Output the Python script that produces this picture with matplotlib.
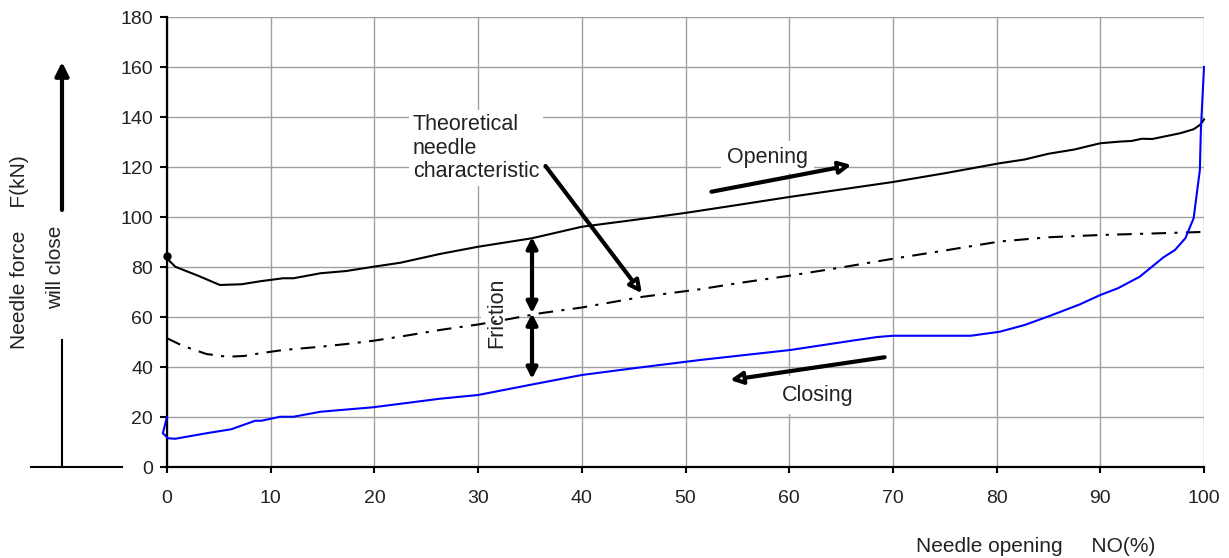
import matplotlib
matplotlib.use("Agg")
import matplotlib.pyplot as plt

plt.rcParams["font.family"] = ["Liberation Sans", "DejaVu Sans"]

# needle opening (%) vs needle force (kN)
open_x = [0, 0.1, 0.8, 3, 5.1, 7.2, 9, 11.2, 12.2, 14.8, 17.3, 19.9, 22.5, 26.3,
          30, 35.2, 40, 45, 50.1, 55, 60, 65, 70, 75, 80.3, 82.7, 85, 87.5, 90,
          92, 93, 94, 95, 97.7, 99, 99.6, 100]
open_y = [84.4, 83, 80.1, 76.5, 72.8, 73.1, 74.3, 75.5, 75.5, 77.5, 78.4, 80.1,
          81.7, 85.2, 88.1, 91.5, 96.1, 98.8, 101.7, 104.8, 108, 111, 114, 117.5,
          121.5, 123, 125.3, 127, 129.5, 130.2, 130.4, 131.3, 131.2, 133.5, 135.1,
          136.8, 139]

theo_x = [0, 1.5, 3.8, 5.8, 7.4, 9, 11.2, 14.8, 17.3, 19.9, 23, 26.3, 30, 33, 36,
          40, 45.9, 51.4, 55, 60, 65, 70, 75, 80.3, 85, 90, 95, 99.7]
theo_y = [51.5, 48.5, 45.2, 44.1, 44.4, 45.5, 46.8, 48.1, 49.2, 50.5, 52.5, 54.8,
          57, 59.2, 61.5, 63.8, 68.1, 71.1, 73.5, 76.5, 79.8, 83.3, 86.6, 90.2,
          91.9, 92.8, 93.4, 94]

close_x = [0, -0.4, 0.1, 0.8, 3.8, 6.2, 8.5, 9.1, 10.9, 12.2, 14.8, 19.9, 26.3, 30,
           35.2, 40, 45, 51.4, 60.1, 66.5, 68.5, 70, 77.5, 80.3, 82.7, 85.1, 88, 90,
           91.7, 93.8, 96.1, 97.2, 98.2, 99, 99.6, 99.7, 100]
close_y = [20.1, 13.5, 11.5, 11.3, 13.5, 15.1, 18.5, 18.5, 20.1, 20.1, 22.1, 23.9,
           27.3, 28.8, 33, 36.8, 39.5, 42.8, 46.8, 50.8, 52, 52.5, 52.5, 54.1, 56.8,
           60.4, 65, 68.8, 71.5, 76.1, 83.9, 86.8, 91.5, 99.5, 118.8, 134.8, 160]

x_ticks = list(range(0, 101, 10))
y_ticks = list(range(0, 181, 20))

fig = plt.figure(figsize=(12.29, 5.58), dpi=100)
ax = fig.add_axes([167 / 1229, 91 / 558, 1037 / 1229, 450 / 558])

ax.set_xlim(0, 100)
ax.set_ylim(0, 180)
ax.set_xticks(x_ticks)
ax.set_yticks(y_ticks)
ax.grid(True, color="#a0a0a0", lw=1)
ax.set_axisbelow(True)
for s in ["top", "right"]:
    ax.spines[s].set_visible(False)
for s in ["left", "bottom"]:
    ax.spines[s].set_linewidth(1.6)
ax.tick_params(axis="x", direction="out", length=4.5, width=1.5, pad=12,
               labelsize=14, labelcolor="#222222")
ax.tick_params(axis="y", direction="out", length=5, width=1.5, pad=5,
               labelsize=14, labelcolor="#222222")

ax.plot(open_x, open_y, color="black", lw=1.5, clip_on=False, zorder=3)
ax.plot([0], [84.4], "o", color="black", ms=5, clip_on=False, zorder=3)
ax.plot(theo_x, theo_y, color="black", lw=1.5, ls=(0, (7, 4, 1.5, 4)),
        clip_on=False, zorder=3)
ax.plot(close_x, close_y, color="#0000ff", lw=1.5, clip_on=False, zorder=3)

fs = 15.5
box = dict(facecolor="white", edgecolor="none", pad=3)

ax.text(23.7, 141, "Theoretical\nneedle\ncharacteristic", fontsize=fs,
        color="#222222", va="top", ha="left", linespacing=1.15, bbox=box, zorder=2)
ax.annotate("", xy=(45.8, 69.5), xytext=(36.5, 120.4),
            arrowprops=dict(arrowstyle="-|>", lw=3, fc="white", ec="black",
                            mutation_scale=18, shrinkA=0, shrinkB=0), zorder=4)

ax.text(57.9, 124, "Opening", fontsize=fs, color="#222222", ha="center",
        va="center", bbox=dict(facecolor="white", edgecolor="none", pad=4),
        zorder=2)
ax.annotate("", xy=(66.0, 120.8), xytext=(52.5, 110.1),
            arrowprops=dict(arrowstyle="-|>", lw=3, fc="white", ec="black",
                            mutation_scale=18, shrinkA=0, shrinkB=0), zorder=4)

ax.text(62.7, 28.8, "Closing", fontsize=fs, color="#222222", ha="center",
        va="center", bbox=dict(facecolor="white", edgecolor="none", pad=6),
        zorder=2)
ax.annotate("", xy=(54.3, 34.8), xytext=(69.2, 43.9),
            arrowprops=dict(arrowstyle="-|>", lw=3, fc="white", ec="black",
                            mutation_scale=18, shrinkA=0, shrinkB=0), zorder=4)

ax.text(31.8, 61.5, "Friction", fontsize=fs, color="#222222", rotation=90,
        ha="center", va="center", bbox=dict(facecolor="white", edgecolor="none", pad=4),
        zorder=2)
for y0, y1 in [(61.5, 92), (61.5, 35.2)]:
    ax.annotate("", xy=(35.2, y1), xytext=(35.2, y0),
                arrowprops=dict(arrowstyle="<|-|>", lw=3, fc="black", ec="black",
                                mutation_scale=16, shrinkA=0, shrinkB=0), zorder=4)

# left side: force direction marker
ax.annotate("", xy=(62, 496), xytext=(62, 348), xycoords="figure pixels",
            textcoords="figure pixels",
            arrowprops=dict(arrowstyle="-|>", lw=3, fc="black", ec="black",
                            mutation_scale=20, shrinkA=0, shrinkB=0))
fig.add_artist(plt.Line2D([62 / 1229, 62 / 1229], [91 / 558, 218 / 558],
                          color="black", lw=1.5, transform=fig.transFigure))
fig.add_artist(plt.Line2D([31 / 1229, 122 / 1229], [91 / 558, 91 / 558],
                          color="black", lw=1.5, transform=fig.transFigure))
fig.text(20 / 1229, 1 - 252 / 558, "Needle force    F(kN)", rotation=90,
         fontsize=15, color="#222222", ha="center", va="center")
fig.text(56 / 1229, 1 - 267 / 558, "will close", rotation=90,
         fontsize=15, color="#222222", ha="center", va="center")
fig.text(1155 / 1229, 1 - 547 / 558, "Needle opening     NO(%)",
         fontsize=15, color="#222222", ha="right", va="center")

fig.savefig("out.png", dpi=100)
